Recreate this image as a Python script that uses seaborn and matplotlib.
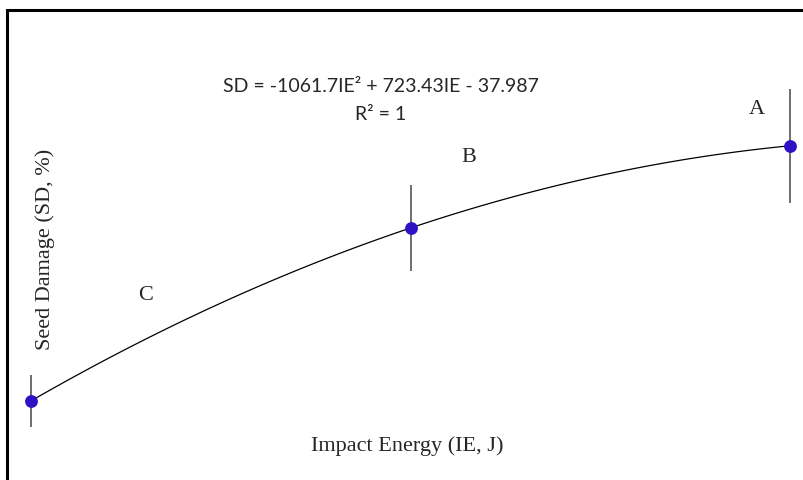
import numpy as np
import pandas as pd
import seaborn as sns
import matplotlib.pyplot as plt
from matplotlib.patches import Rectangle

# measured points (impact energy in J, seed damage in %)
impact_energy = [0.1, 0.2, 0.3]
seed_damage = [23.74, 64.23, 83.49]
sd_error = [6.1, 10.0, 13.4]
point_labels = ['C', 'B', 'A']

equation = 'SD = -1061.7IE² + 723.43IE - 37.987'
r_squared = 'R² = 1'

df = pd.DataFrame({'IE': impact_energy, 'SD': seed_damage, 'err': sd_error})

sns.set_style('white')
plt.rcParams['font.family'] = ['Liberation Serif', 'DejaVu Serif']

fig = plt.figure(figsize=(8.04, 4.80), dpi=100)
ax = fig.add_axes([0, 0, 1, 1])

# second order trendline through the three points
sns.regplot(data=df, x='IE', y='SD', order=2, ci=None, scatter=False,
            line_kws={'color': 'black', 'lw': 0.9}, ax=ax)
ax.errorbar(df['IE'], df['SD'], yerr=df['err'], fmt='none',
            ecolor='#555555', elinewidth=1.2, capsize=0, zorder=3)
sns.scatterplot(data=df, x='IE', y='SD', color='#2e12c4', s=85,
                edgecolor='#2e12c4', linewidth=0, zorder=4, ax=ax)

ax.set_xlim(0.09182, 0.30369)
ax.set_ylim(5.21, 117.63)
ax.axis('off')

# point letters
ax.text(757 / 804, 1 - 109 / 480, point_labels[2], transform=ax.transAxes,
        fontsize=16, ha='center', va='center')
ax.text(469 / 804, 1 - 158 / 480, point_labels[1], transform=ax.transAxes,
        fontsize=16, ha='center', va='center')
ax.text(146 / 804, 1 - 296 / 480, point_labels[0], transform=ax.transAxes,
        fontsize=16, ha='center', va='center')

# trendline equation
ax.text(381 / 804, 1 - 87 / 480, equation, transform=ax.transAxes,
        fontsize=14, ha='center', va='center', family=['Lato', 'DejaVu Sans'])
ax.text(381 / 804, 1 - 114 / 480, r_squared, transform=ax.transAxes,
        fontsize=14, ha='center', va='center', family=['Lato', 'DejaVu Sans'])

# axis titles
ax.text(407 / 804, 1 - 446 / 480, 'Impact Energy (IE, J)', transform=ax.transAxes,
        fontsize=16, ha='center', va='center')
ax.text(45 / 804, 1 - 249 / 480, 'Seed Damage (SD, %)', transform=ax.transAxes,
        fontsize=16, ha='center', va='center', rotation=90)

# frame around the chart
fig.patches.append(Rectangle((7 / 804, -0.1), 1.2, 1 - 9.5 / 480 + 0.1,
                             transform=fig.transFigure, fill=False,
                             edgecolor='black', lw=2.2))

fig.savefig('out.png', dpi=100, facecolor='white')
